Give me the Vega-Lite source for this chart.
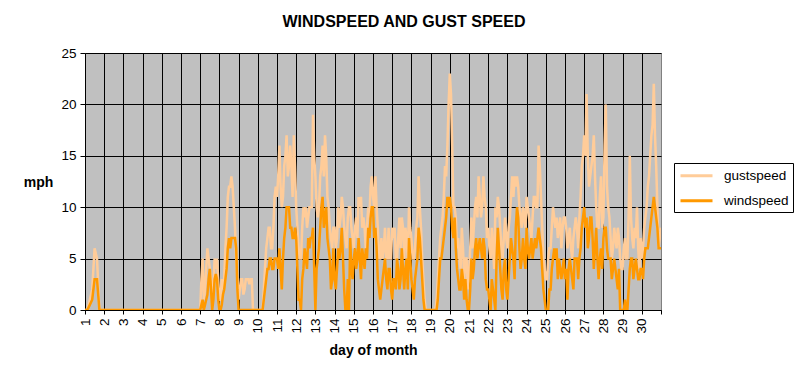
{
  "$schema": "https://vega.github.io/schema/vega-lite/v6.json",
  "autosize": {"type": "none"},
  "width": 576,
  "height": 257,
  "padding": {"left": 85, "top": 53, "right": 148, "bottom": 74},
  "background": "white",
  "title": {
    "text": "WINDSPEED AND GUST SPEED",
    "font": "Liberation Sans",
    "fontSize": 16,
    "fontWeight": "bold",
    "color": "black",
    "anchor": "middle",
    "dx": 31,
    "offset": 16
  },
  "data": {
    "values": [
      {"day": 1.0, "gustspeed": 0, "windspeed": 0},
      {"day": 1.125, "gustspeed": 0, "windspeed": 0},
      {"day": 1.25, "gustspeed": 1, "windspeed": 0.5},
      {"day": 1.375, "gustspeed": 2, "windspeed": 1},
      {"day": 1.5, "gustspeed": 6, "windspeed": 3},
      {"day": 1.625, "gustspeed": 5, "windspeed": 3},
      {"day": 1.75, "gustspeed": 0, "windspeed": 0},
      {"day": 2.0, "gustspeed": 0, "windspeed": 0},
      {"day": 2.5, "gustspeed": 0, "windspeed": 0},
      {"day": 3.0, "gustspeed": 0, "windspeed": 0},
      {"day": 3.5, "gustspeed": 0, "windspeed": 0},
      {"day": 4.0, "gustspeed": 0, "windspeed": 0},
      {"day": 4.5, "gustspeed": 0, "windspeed": 0},
      {"day": 5.0, "gustspeed": 0, "windspeed": 0},
      {"day": 5.5, "gustspeed": 0, "windspeed": 0},
      {"day": 6.0, "gustspeed": 0, "windspeed": 0},
      {"day": 6.5, "gustspeed": 0, "windspeed": 0},
      {"day": 6.875, "gustspeed": 0, "windspeed": 0},
      {"day": 7.0, "gustspeed": 0, "windspeed": 0},
      {"day": 7.125, "gustspeed": 5, "windspeed": 1},
      {"day": 7.25, "gustspeed": 2, "windspeed": 0.5},
      {"day": 7.375, "gustspeed": 6, "windspeed": 1.5},
      {"day": 7.5, "gustspeed": 4, "windspeed": 4},
      {"day": 7.625, "gustspeed": 1, "windspeed": 0},
      {"day": 7.75, "gustspeed": 5, "windspeed": 3},
      {"day": 7.875, "gustspeed": 5, "windspeed": 3},
      {"day": 8.0, "gustspeed": 1, "windspeed": 0},
      {"day": 8.125, "gustspeed": 3, "windspeed": 0.5},
      {"day": 8.25, "gustspeed": 3, "windspeed": 2},
      {"day": 8.375, "gustspeed": 8, "windspeed": 4},
      {"day": 8.5, "gustspeed": 12, "windspeed": 7},
      {"day": 8.625, "gustspeed": 13, "windspeed": 7},
      {"day": 8.75, "gustspeed": 10, "windspeed": 7},
      {"day": 8.875, "gustspeed": 5, "windspeed": 6},
      {"day": 9.0, "gustspeed": 1, "windspeed": 0},
      {"day": 9.125, "gustspeed": 3, "windspeed": 0},
      {"day": 9.25, "gustspeed": 1.5, "windspeed": 0},
      {"day": 9.375, "gustspeed": 3, "windspeed": 0},
      {"day": 9.5, "gustspeed": 3, "windspeed": 0},
      {"day": 9.625, "gustspeed": 3, "windspeed": 0},
      {"day": 9.75, "gustspeed": 0, "windspeed": 0},
      {"day": 9.875, "gustspeed": 0, "windspeed": 0},
      {"day": 10.0, "gustspeed": 0, "windspeed": 0},
      {"day": 10.125, "gustspeed": 0, "windspeed": 0},
      {"day": 10.25, "gustspeed": 0, "windspeed": 0},
      {"day": 10.375, "gustspeed": 4, "windspeed": 2},
      {"day": 10.5, "gustspeed": 7, "windspeed": 4},
      {"day": 10.625, "gustspeed": 8, "windspeed": 5},
      {"day": 10.75, "gustspeed": 6, "windspeed": 4},
      {"day": 10.875, "gustspeed": 11, "windspeed": 5},
      {"day": 11.0, "gustspeed": 11, "windspeed": 5},
      {"day": 11.125, "gustspeed": 16, "windspeed": 6},
      {"day": 11.25, "gustspeed": 10, "windspeed": 2},
      {"day": 11.375, "gustspeed": 14, "windspeed": 7},
      {"day": 11.5, "gustspeed": 17, "windspeed": 10},
      {"day": 11.625, "gustspeed": 14, "windspeed": 10},
      {"day": 11.75, "gustspeed": 14, "windspeed": 8},
      {"day": 11.875, "gustspeed": 17, "windspeed": 7},
      {"day": 12.0, "gustspeed": 10, "windspeed": 7},
      {"day": 12.125, "gustspeed": 6, "windspeed": 1},
      {"day": 12.25, "gustspeed": 5, "windspeed": 0},
      {"day": 12.375, "gustspeed": 10, "windspeed": 4},
      {"day": 12.5, "gustspeed": 10, "windspeed": 5},
      {"day": 12.625, "gustspeed": 9, "windspeed": 7},
      {"day": 12.75, "gustspeed": 10, "windspeed": 7},
      {"day": 12.875, "gustspeed": 19, "windspeed": 8},
      {"day": 13.0, "gustspeed": 13, "windspeed": 0},
      {"day": 13.125, "gustspeed": 9, "windspeed": 5},
      {"day": 13.25, "gustspeed": 13, "windspeed": 8},
      {"day": 13.375, "gustspeed": 16, "windspeed": 11},
      {"day": 13.5, "gustspeed": 17, "windspeed": 9},
      {"day": 13.625, "gustspeed": 11, "windspeed": 7},
      {"day": 13.75, "gustspeed": 8, "windspeed": 5},
      {"day": 13.875, "gustspeed": 6, "windspeed": 3},
      {"day": 14.0, "gustspeed": 8, "windspeed": 3},
      {"day": 14.125, "gustspeed": 7, "windspeed": 4},
      {"day": 14.25, "gustspeed": 8, "windspeed": 5},
      {"day": 14.375, "gustspeed": 11, "windspeed": 8},
      {"day": 14.5, "gustspeed": 8, "windspeed": 2},
      {"day": 14.625, "gustspeed": 6, "windspeed": 0},
      {"day": 14.75, "gustspeed": 10, "windspeed": 0},
      {"day": 14.875, "gustspeed": 8, "windspeed": 4},
      {"day": 15.0, "gustspeed": 6, "windspeed": 5},
      {"day": 15.125, "gustspeed": 9, "windspeed": 4},
      {"day": 15.25, "gustspeed": 11, "windspeed": 7},
      {"day": 15.375, "gustspeed": 11, "windspeed": 3},
      {"day": 15.5, "gustspeed": 9, "windspeed": 5},
      {"day": 15.625, "gustspeed": 6, "windspeed": 6},
      {"day": 15.75, "gustspeed": 10, "windspeed": 8},
      {"day": 15.875, "gustspeed": 12, "windspeed": 9},
      {"day": 16.0, "gustspeed": 11, "windspeed": 10},
      {"day": 16.125, "gustspeed": 13, "windspeed": 8},
      {"day": 16.25, "gustspeed": 8, "windspeed": 3},
      {"day": 16.375, "gustspeed": 5, "windspeed": 1},
      {"day": 16.5, "gustspeed": 5, "windspeed": 3},
      {"day": 16.625, "gustspeed": 8, "windspeed": 5},
      {"day": 16.75, "gustspeed": 5, "windspeed": 2},
      {"day": 16.875, "gustspeed": 5, "windspeed": 4},
      {"day": 17.0, "gustspeed": 8, "windspeed": 1},
      {"day": 17.125, "gustspeed": 8, "windspeed": 3},
      {"day": 17.25, "gustspeed": 5, "windspeed": 5},
      {"day": 17.375, "gustspeed": 9, "windspeed": 2},
      {"day": 17.5, "gustspeed": 9, "windspeed": 6},
      {"day": 17.625, "gustspeed": 5, "windspeed": 2},
      {"day": 17.75, "gustspeed": 7, "windspeed": 5},
      {"day": 17.875, "gustspeed": 10, "windspeed": 7},
      {"day": 18.0, "gustspeed": 7, "windspeed": 3},
      {"day": 18.125, "gustspeed": 5, "windspeed": 1},
      {"day": 18.25, "gustspeed": 8, "windspeed": 4},
      {"day": 18.375, "gustspeed": 13, "windspeed": 8},
      {"day": 18.5, "gustspeed": 8, "windspeed": 5},
      {"day": 18.625, "gustspeed": 3, "windspeed": 1},
      {"day": 18.75, "gustspeed": 0, "windspeed": 0},
      {"day": 18.875, "gustspeed": 0, "windspeed": 0},
      {"day": 19.0, "gustspeed": 0, "windspeed": 0},
      {"day": 19.125, "gustspeed": 0, "windspeed": 0},
      {"day": 19.25, "gustspeed": 0, "windspeed": 0},
      {"day": 19.375, "gustspeed": 3, "windspeed": 1},
      {"day": 19.5, "gustspeed": 7, "windspeed": 5},
      {"day": 19.625, "gustspeed": 9, "windspeed": 6},
      {"day": 19.75, "gustspeed": 14, "windspeed": 8},
      {"day": 19.875, "gustspeed": 16, "windspeed": 11},
      {"day": 20.0, "gustspeed": 23, "windspeed": 11},
      {"day": 20.125, "gustspeed": 16, "windspeed": 8},
      {"day": 20.25, "gustspeed": 10, "windspeed": 9},
      {"day": 20.375, "gustspeed": 6, "windspeed": 4},
      {"day": 20.5, "gustspeed": 5, "windspeed": 2},
      {"day": 20.625, "gustspeed": 8, "windspeed": 4},
      {"day": 20.75, "gustspeed": 3, "windspeed": 1},
      {"day": 20.875, "gustspeed": 5, "windspeed": 1},
      {"day": 21.0, "gustspeed": 3, "windspeed": 0},
      {"day": 21.125, "gustspeed": 9, "windspeed": 5},
      {"day": 21.25, "gustspeed": 8, "windspeed": 4},
      {"day": 21.375, "gustspeed": 11, "windspeed": 7},
      {"day": 21.5, "gustspeed": 13, "windspeed": 6},
      {"day": 21.625, "gustspeed": 9, "windspeed": 6},
      {"day": 21.75, "gustspeed": 13, "windspeed": 7},
      {"day": 21.875, "gustspeed": 10, "windspeed": 3},
      {"day": 22.0, "gustspeed": 8, "windspeed": 2},
      {"day": 22.125, "gustspeed": 5, "windspeed": 0},
      {"day": 22.25, "gustspeed": 6, "windspeed": 2},
      {"day": 22.375, "gustspeed": 10, "windspeed": 0},
      {"day": 22.5, "gustspeed": 11, "windspeed": 8},
      {"day": 22.625, "gustspeed": 8, "windspeed": 4},
      {"day": 22.75, "gustspeed": 5, "windspeed": 1},
      {"day": 22.875, "gustspeed": 9, "windspeed": 5},
      {"day": 23.0, "gustspeed": 6, "windspeed": 1},
      {"day": 23.125, "gustspeed": 9, "windspeed": 5},
      {"day": 23.25, "gustspeed": 13, "windspeed": 6},
      {"day": 23.375, "gustspeed": 13, "windspeed": 3},
      {"day": 23.5, "gustspeed": 13, "windspeed": 10},
      {"day": 23.625, "gustspeed": 10, "windspeed": 6},
      {"day": 23.75, "gustspeed": 8, "windspeed": 5},
      {"day": 23.875, "gustspeed": 9, "windspeed": 5},
      {"day": 24.0, "gustspeed": 11, "windspeed": 8},
      {"day": 24.125, "gustspeed": 9, "windspeed": 5},
      {"day": 24.25, "gustspeed": 7, "windspeed": 7},
      {"day": 24.375, "gustspeed": 11, "windspeed": 6},
      {"day": 24.5, "gustspeed": 10, "windspeed": 6},
      {"day": 24.625, "gustspeed": 16, "windspeed": 8},
      {"day": 24.75, "gustspeed": 11, "windspeed": 6},
      {"day": 24.875, "gustspeed": 5, "windspeed": 2},
      {"day": 25.0, "gustspeed": 3, "windspeed": 0},
      {"day": 25.125, "gustspeed": 5, "windspeed": 0},
      {"day": 25.25, "gustspeed": 6, "windspeed": 2},
      {"day": 25.375, "gustspeed": 10, "windspeed": 5},
      {"day": 25.5, "gustspeed": 8, "windspeed": 5},
      {"day": 25.625, "gustspeed": 7, "windspeed": 3},
      {"day": 25.75, "gustspeed": 9, "windspeed": 4},
      {"day": 25.875, "gustspeed": 8, "windspeed": 4},
      {"day": 26.0, "gustspeed": 9, "windspeed": 3},
      {"day": 26.125, "gustspeed": 6, "windspeed": 1},
      {"day": 26.25, "gustspeed": 8, "windspeed": 5},
      {"day": 26.375, "gustspeed": 5, "windspeed": 3},
      {"day": 26.5, "gustspeed": 8, "windspeed": 5},
      {"day": 26.625, "gustspeed": 8, "windspeed": 5},
      {"day": 26.75, "gustspeed": 9, "windspeed": 5},
      {"day": 26.875, "gustspeed": 14, "windspeed": 8},
      {"day": 27.0, "gustspeed": 17, "windspeed": 10},
      {"day": 27.125, "gustspeed": 21, "windspeed": 9},
      {"day": 27.25, "gustspeed": 12, "windspeed": 7},
      {"day": 27.375, "gustspeed": 14, "windspeed": 9},
      {"day": 27.5, "gustspeed": 17, "windspeed": 4},
      {"day": 27.625, "gustspeed": 10, "windspeed": 8},
      {"day": 27.75, "gustspeed": 8, "windspeed": 3},
      {"day": 27.875, "gustspeed": 13, "windspeed": 6},
      {"day": 28.0, "gustspeed": 9, "windspeed": 7},
      {"day": 28.125, "gustspeed": 20, "windspeed": 8},
      {"day": 28.25, "gustspeed": 10, "windspeed": 5},
      {"day": 28.375, "gustspeed": 7, "windspeed": 5},
      {"day": 28.5, "gustspeed": 6, "windspeed": 4},
      {"day": 28.625, "gustspeed": 7, "windspeed": 4},
      {"day": 28.75, "gustspeed": 8, "windspeed": 2},
      {"day": 28.875, "gustspeed": 5, "windspeed": 0},
      {"day": 29.0, "gustspeed": 4, "windspeed": 0},
      {"day": 29.125, "gustspeed": 7, "windspeed": 1},
      {"day": 29.25, "gustspeed": 5, "windspeed": 0},
      {"day": 29.375, "gustspeed": 15, "windspeed": 4},
      {"day": 29.5, "gustspeed": 7, "windspeed": 5},
      {"day": 29.625, "gustspeed": 8, "windspeed": 4},
      {"day": 29.75, "gustspeed": 10, "windspeed": 4},
      {"day": 29.875, "gustspeed": 4, "windspeed": 3},
      {"day": 30.0, "gustspeed": 5, "windspeed": 4},
      {"day": 30.125, "gustspeed": 8, "windspeed": 5},
      {"day": 30.25, "gustspeed": 10, "windspeed": 6},
      {"day": 30.375, "gustspeed": 13, "windspeed": 7},
      {"day": 30.5, "gustspeed": 17, "windspeed": 9},
      {"day": 30.625, "gustspeed": 22, "windspeed": 11},
      {"day": 30.75, "gustspeed": 14, "windspeed": 9},
      {"day": 30.875, "gustspeed": 6, "windspeed": 6},
      {"day": 31.0, "gustspeed": 8, "windspeed": 6},
      {"day": 7.0625, "gustspeed": 3, "windspeed": 0.5},
      {"day": 7.1875, "gustspeed": 1, "windspeed": 0},
      {"day": 7.3125, "gustspeed": 4, "windspeed": 1},
      {"day": 7.4375, "gustspeed": 5, "windspeed": 3},
      {"day": 7.5625, "gustspeed": 3, "windspeed": 2},
      {"day": 7.6875, "gustspeed": 2, "windspeed": 1},
      {"day": 7.8125, "gustspeed": 4, "windspeed": 3.5},
      {"day": 7.9375, "gustspeed": 3, "windspeed": 1},
      {"day": 8.0625, "gustspeed": 1, "windspeed": 0},
      {"day": 8.1875, "gustspeed": 2, "windspeed": 1.5},
      {"day": 8.3125, "gustspeed": 6, "windspeed": 3},
      {"day": 8.4375, "gustspeed": 11, "windspeed": 6},
      {"day": 8.5625, "gustspeed": 12, "windspeed": 6},
      {"day": 8.6875, "gustspeed": 12, "windspeed": 7},
      {"day": 8.8125, "gustspeed": 8, "windspeed": 7},
      {"day": 8.9375, "gustspeed": 3, "windspeed": 2},
      {"day": 9.0625, "gustspeed": 2, "windspeed": 0},
      {"day": 9.1875, "gustspeed": 3, "windspeed": 0},
      {"day": 9.3125, "gustspeed": 2, "windspeed": 0},
      {"day": 9.4375, "gustspeed": 3, "windspeed": 0},
      {"day": 9.5625, "gustspeed": 2.5, "windspeed": 0},
      {"day": 9.6875, "gustspeed": 3, "windspeed": 0},
      {"day": 10.4375, "gustspeed": 6, "windspeed": 3},
      {"day": 10.5625, "gustspeed": 8, "windspeed": 4},
      {"day": 10.6875, "gustspeed": 6, "windspeed": 5},
      {"day": 10.8125, "gustspeed": 8, "windspeed": 4},
      {"day": 10.9375, "gustspeed": 12, "windspeed": 5},
      {"day": 11.0625, "gustspeed": 13, "windspeed": 4},
      {"day": 11.1875, "gustspeed": 12, "windspeed": 4},
      {"day": 11.3125, "gustspeed": 11, "windspeed": 5},
      {"day": 11.4375, "gustspeed": 15, "windspeed": 8},
      {"day": 11.5625, "gustspeed": 13, "windspeed": 10},
      {"day": 11.6875, "gustspeed": 16, "windspeed": 8},
      {"day": 11.8125, "gustspeed": 11, "windspeed": 7},
      {"day": 11.9375, "gustspeed": 14, "windspeed": 8},
      {"day": 12.0625, "gustspeed": 8, "windspeed": 4},
      {"day": 12.1875, "gustspeed": 5, "windspeed": 1},
      {"day": 12.3125, "gustspeed": 8, "windspeed": 3},
      {"day": 12.4375, "gustspeed": 9, "windspeed": 6},
      {"day": 12.5625, "gustspeed": 8, "windspeed": 4},
      {"day": 12.6875, "gustspeed": 10, "windspeed": 6},
      {"day": 12.8125, "gustspeed": 10, "windspeed": 7},
      {"day": 12.9375, "gustspeed": 15, "windspeed": 4},
      {"day": 13.0625, "gustspeed": 10, "windspeed": 4},
      {"day": 13.1875, "gustspeed": 10, "windspeed": 6},
      {"day": 13.3125, "gustspeed": 14, "windspeed": 10},
      {"day": 13.4375, "gustspeed": 13, "windspeed": 8},
      {"day": 13.5625, "gustspeed": 15, "windspeed": 10},
      {"day": 13.6875, "gustspeed": 10, "windspeed": 6},
      {"day": 13.8125, "gustspeed": 7, "windspeed": 2},
      {"day": 13.9375, "gustspeed": 8, "windspeed": 6},
      {"day": 14.0625, "gustspeed": 6, "windspeed": 2},
      {"day": 14.1875, "gustspeed": 10, "windspeed": 6},
      {"day": 14.3125, "gustspeed": 9, "windspeed": 6},
      {"day": 14.4375, "gustspeed": 10, "windspeed": 5},
      {"day": 14.5625, "gustspeed": 7, "windspeed": 0},
      {"day": 14.6875, "gustspeed": 9, "windspeed": 3},
      {"day": 14.8125, "gustspeed": 10, "windspeed": 7},
      {"day": 14.9375, "gustspeed": 7, "windspeed": 3},
      {"day": 15.0625, "gustspeed": 8, "windspeed": 6},
      {"day": 15.1875, "gustspeed": 7, "windspeed": 5},
      {"day": 15.3125, "gustspeed": 10, "windspeed": 5},
      {"day": 15.4375, "gustspeed": 8, "windspeed": 6},
      {"day": 15.5625, "gustspeed": 8, "windspeed": 4},
      {"day": 15.6875, "gustspeed": 8, "windspeed": 5},
      {"day": 15.8125, "gustspeed": 9, "windspeed": 7},
      {"day": 15.9375, "gustspeed": 13, "windspeed": 10},
      {"day": 16.0625, "gustspeed": 10, "windspeed": 7},
      {"day": 16.1875, "gustspeed": 10, "windspeed": 6},
      {"day": 16.3125, "gustspeed": 5, "windspeed": 2},
      {"day": 16.4375, "gustspeed": 7, "windspeed": 2},
      {"day": 16.5625, "gustspeed": 6, "windspeed": 4},
      {"day": 16.6875, "gustspeed": 5, "windspeed": 3},
      {"day": 16.8125, "gustspeed": 8, "windspeed": 4},
      {"day": 16.9375, "gustspeed": 5, "windspeed": 2},
      {"day": 17.0625, "gustspeed": 7, "windspeed": 3},
      {"day": 17.1875, "gustspeed": 5, "windspeed": 2},
      {"day": 17.3125, "gustspeed": 7, "windspeed": 4},
      {"day": 17.4375, "gustspeed": 6, "windspeed": 3},
      {"day": 17.5625, "gustspeed": 8, "windspeed": 4},
      {"day": 17.6875, "gustspeed": 8, "windspeed": 4},
      {"day": 17.8125, "gustspeed": 5, "windspeed": 2},
      {"day": 17.9375, "gustspeed": 8, "windspeed": 5},
      {"day": 18.0625, "gustspeed": 5, "windspeed": 2},
      {"day": 18.1875, "gustspeed": 6, "windspeed": 3},
      {"day": 18.3125, "gustspeed": 9, "windspeed": 5},
      {"day": 18.4375, "gustspeed": 10, "windspeed": 7},
      {"day": 18.5625, "gustspeed": 5, "windspeed": 3},
      {"day": 18.6875, "gustspeed": 1, "windspeed": 0},
      {"day": 19.3125, "gustspeed": 1, "windspeed": 0},
      {"day": 19.4375, "gustspeed": 5, "windspeed": 3},
      {"day": 19.5625, "gustspeed": 8, "windspeed": 5},
      {"day": 19.6875, "gustspeed": 11, "windspeed": 7},
      {"day": 19.8125, "gustspeed": 13, "windspeed": 9},
      {"day": 19.9375, "gustspeed": 20, "windspeed": 10},
      {"day": 20.0625, "gustspeed": 21, "windspeed": 10},
      {"day": 20.1875, "gustspeed": 10, "windspeed": 7},
      {"day": 20.3125, "gustspeed": 9, "windspeed": 6},
      {"day": 20.4375, "gustspeed": 7, "windspeed": 3},
      {"day": 20.5625, "gustspeed": 4, "windspeed": 2},
      {"day": 20.6875, "gustspeed": 6, "windspeed": 3},
      {"day": 20.8125, "gustspeed": 5, "windspeed": 3},
      {"day": 20.9375, "gustspeed": 2, "windspeed": 0},
      {"day": 21.0625, "gustspeed": 6, "windspeed": 2},
      {"day": 21.1875, "gustspeed": 6, "windspeed": 3},
      {"day": 21.3125, "gustspeed": 10, "windspeed": 6},
      {"day": 21.4375, "gustspeed": 9, "windspeed": 5},
      {"day": 21.5625, "gustspeed": 11, "windspeed": 7},
      {"day": 21.6875, "gustspeed": 10, "windspeed": 5},
      {"day": 21.8125, "gustspeed": 11, "windspeed": 6},
      {"day": 21.9375, "gustspeed": 7, "windspeed": 2},
      {"day": 22.0625, "gustspeed": 6, "windspeed": 1},
      {"day": 22.1875, "gustspeed": 8, "windspeed": 3},
      {"day": 22.3125, "gustspeed": 4, "windspeed": 1},
      {"day": 22.4375, "gustspeed": 9, "windspeed": 5},
      {"day": 22.5625, "gustspeed": 10, "windspeed": 6},
      {"day": 22.6875, "gustspeed": 6, "windspeed": 2},
      {"day": 22.8125, "gustspeed": 7, "windspeed": 4},
      {"day": 22.9375, "gustspeed": 7, "windspeed": 2},
      {"day": 23.0625, "gustspeed": 8, "windspeed": 3},
      {"day": 23.1875, "gustspeed": 11, "windspeed": 7},
      {"day": 23.3125, "gustspeed": 11, "windspeed": 5},
      {"day": 23.4375, "gustspeed": 12, "windspeed": 8},
      {"day": 23.5625, "gustspeed": 12, "windspeed": 9},
      {"day": 23.6875, "gustspeed": 9, "windspeed": 4},
      {"day": 23.8125, "gustspeed": 10, "windspeed": 7},
      {"day": 23.9375, "gustspeed": 8, "windspeed": 4},
      {"day": 24.0625, "gustspeed": 10, "windspeed": 6},
      {"day": 24.1875, "gustspeed": 8, "windspeed": 6},
      {"day": 24.3125, "gustspeed": 9, "windspeed": 5},
      {"day": 24.4375, "gustspeed": 11, "windspeed": 7},
      {"day": 24.5625, "gustspeed": 10, "windspeed": 7},
      {"day": 24.6875, "gustspeed": 14, "windspeed": 7},
      {"day": 24.8125, "gustspeed": 8, "windspeed": 4},
      {"day": 24.9375, "gustspeed": 4, "windspeed": 1},
      {"day": 25.0625, "gustspeed": 3, "windspeed": 0},
      {"day": 25.1875, "gustspeed": 6, "windspeed": 2},
      {"day": 25.3125, "gustspeed": 8, "windspeed": 4},
      {"day": 25.4375, "gustspeed": 9, "windspeed": 6},
      {"day": 25.5625, "gustspeed": 9, "windspeed": 6},
      {"day": 25.6875, "gustspeed": 8, "windspeed": 5},
      {"day": 25.8125, "gustspeed": 6, "windspeed": 3},
      {"day": 25.9375, "gustspeed": 9, "windspeed": 5},
      {"day": 26.0625, "gustspeed": 8, "windspeed": 4},
      {"day": 26.1875, "gustspeed": 7, "windspeed": 4},
      {"day": 26.3125, "gustspeed": 6, "windspeed": 4},
      {"day": 26.4375, "gustspeed": 7, "windspeed": 2},
      {"day": 26.5625, "gustspeed": 9, "windspeed": 5},
      {"day": 26.6875, "gustspeed": 6, "windspeed": 3},
      {"day": 26.8125, "gustspeed": 11, "windspeed": 6},
      {"day": 26.9375, "gustspeed": 15, "windspeed": 9},
      {"day": 27.0625, "gustspeed": 15, "windspeed": 8},
      {"day": 27.1875, "gustspeed": 15, "windspeed": 6},
      {"day": 27.3125, "gustspeed": 13, "windspeed": 9},
      {"day": 27.4375, "gustspeed": 15, "windspeed": 7},
      {"day": 27.5625, "gustspeed": 13, "windspeed": 6},
      {"day": 27.6875, "gustspeed": 8, "windspeed": 5},
      {"day": 27.8125, "gustspeed": 11, "windspeed": 5},
      {"day": 27.9375, "gustspeed": 8, "windspeed": 4},
      {"day": 28.0625, "gustspeed": 16, "windspeed": 8},
      {"day": 28.1875, "gustspeed": 12, "windspeed": 6},
      {"day": 28.3125, "gustspeed": 9, "windspeed": 5},
      {"day": 28.4375, "gustspeed": 5, "windspeed": 3},
      {"day": 28.5625, "gustspeed": 8, "windspeed": 5},
      {"day": 28.6875, "gustspeed": 6, "windspeed": 3},
      {"day": 28.8125, "gustspeed": 7, "windspeed": 4},
      {"day": 28.9375, "gustspeed": 4, "windspeed": 0},
      {"day": 29.0625, "gustspeed": 6, "windspeed": 0},
      {"day": 29.1875, "gustspeed": 5, "windspeed": 0},
      {"day": 29.3125, "gustspeed": 9, "windspeed": 2},
      {"day": 29.4375, "gustspeed": 9, "windspeed": 5},
      {"day": 29.5625, "gustspeed": 6, "windspeed": 3},
      {"day": 29.6875, "gustspeed": 7, "windspeed": 5},
      {"day": 29.8125, "gustspeed": 6, "windspeed": 3},
      {"day": 29.9375, "gustspeed": 7, "windspeed": 4},
      {"day": 30.0625, "gustspeed": 6, "windspeed": 3},
      {"day": 30.1875, "gustspeed": 9, "windspeed": 6},
      {"day": 30.3125, "gustspeed": 12, "windspeed": 6},
      {"day": 30.4375, "gustspeed": 15, "windspeed": 8},
      {"day": 30.5625, "gustspeed": 18, "windspeed": 10},
      {"day": 30.6875, "gustspeed": 17, "windspeed": 10},
      {"day": 30.8125, "gustspeed": 10, "windspeed": 8},
      {"day": 30.9375, "gustspeed": 7, "windspeed": 6}
    ]
  },
  "transform": [
    {"fold": ["gustspeed", "windspeed"], "as": ["series", "speed"]}
  ],
  "mark": {"type": "line", "strokeWidth": 2.5, "interpolate": "linear", "clip": true},
  "encoding": {
    "x": {
      "field": "day",
      "type": "quantitative",
      "scale": {"domain": [1, 31], "nice": false, "zero": false},
      "axis": {
        "title": "day of month",
        "values": [1,2,3,4,5,6,7,8,9,10,11,12,13,14,15,16,17,18,19,20,21,22,23,24,25,26,27,28,29,30,31],
        "labelExpr": "datum.value == 31 ? '' : datum.label",
        "labelAngle": 270,
        "labelAlign": "right",
        "labelBaseline": "middle",
        "labelPadding": 4,
        "labelFont": "Liberation Sans",
        "labelFontSize": 13.5,
        "labelColor": "black",
        "labelOverlap": false,
        "tickColor": "black",
        "tickSize": 4,
        "domainColor": "black",
        "grid": true,
        "gridColor": {"condition": {"test": "datum.value == 31", "value": "#808080"}, "value": "black"},
        "gridOpacity": 1,
        "gridWidth": 1,
        "titleFont": "Liberation Sans",
        "titleFontSize": 14,
        "titleFontWeight": "bold",
        "titleColor": "black",
        "titleBaseline": "middle",
        "titleY": 40
      }
    },
    "y": {
      "field": "speed",
      "type": "quantitative",
      "scale": {"domain": [0, 25], "nice": false},
      "axis": {
        "title": "mph",
        "values": [0, 5, 10, 15, 20, 25],
        "labelFont": "Liberation Sans",
        "labelFontSize": 13.5,
        "labelColor": "black",
        "labelPadding": 4,
        "tickColor": "black",
        "tickSize": 5,
        "domain": false,
        "grid": true,
        "gridColor": "black",
        "gridOpacity": 1,
        "gridWidth": 1,
        "titleFont": "Liberation Sans",
        "titleFontSize": 14,
        "titleFontWeight": "bold",
        "titleColor": "black",
        "titleAngle": 0,
        "titleAlign": "center",
        "titleBaseline": "middle",
        "titleX": -47,
        "titleY": 129
      }
    },
    "color": {
      "field": "series",
      "type": "nominal",
      "scale": {"domain": ["gustspeed", "windspeed"], "range": ["#FFCC99", "#FF9900"]},
      "legend": {
        "title": null,
        "orient": "none",
        "legendX": 589,
        "legendY": 110,
        "strokeColor": "black",
        "fillColor": "white",
        "padding": 3.8,
        "symbolType": "M-2.133,0H2.133",
        "symbolSize": 225,
        "symbolStrokeWidth": 3,
        "symbolOffset": 9.7,
        "labelOffset": 18.5,
        "rowPadding": 9,
        "labelExpr": "datum.label + '\u00a0\u00a0'",
        "labelFont": "Liberation Sans",
        "labelFontSize": 13.5,
        "labelColor": "black"
      }
    }
  },
  "config": {
    "view": {"fill": "#C0C0C0", "stroke": "#808080", "strokeWidth": 1}
  }
}
